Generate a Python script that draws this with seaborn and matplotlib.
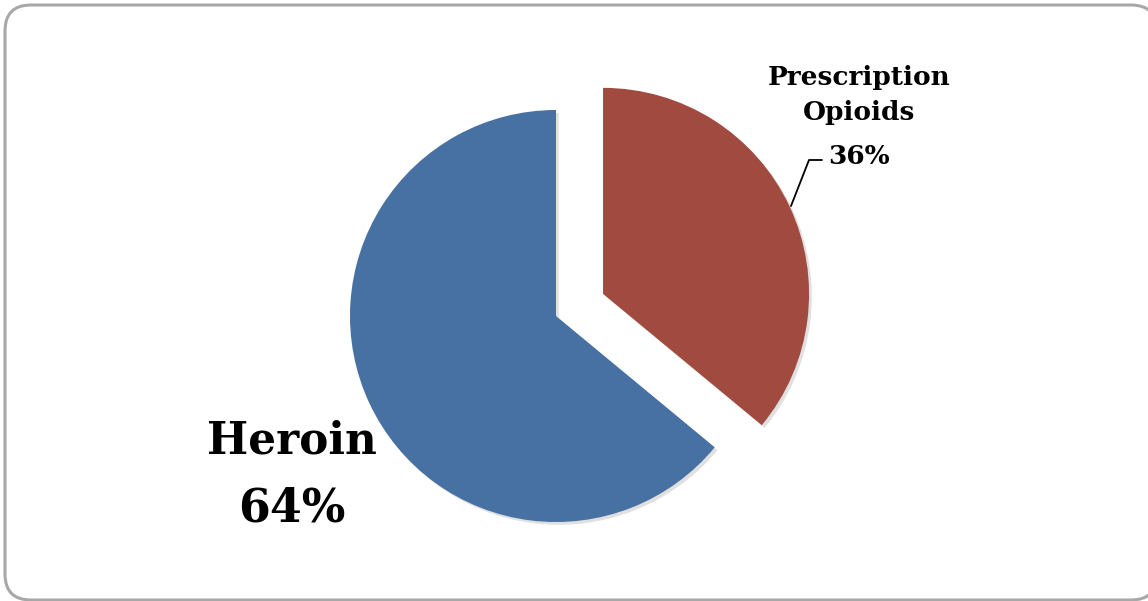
import matplotlib
matplotlib.use("Agg")
import matplotlib.pyplot as plt
import matplotlib.patches as mpatches
import matplotlib.patheffects as pe
import seaborn as sns

# Share of opioid overdose deaths by drug type
categories = ["Prescription\nOpioids", "Heroin"]
shares = [36, 64]
pct_labels = ["36%", "64%"]
colors = ["#A04A40", "#4671A2"]

sns.set_theme(style="white")
plt.rcParams["font.family"] = ["DejaVu Serif", "DejaVu Sans"]

W, H = 1148, 601
fig = plt.figure(figsize=(W / 100, H / 100), dpi=100)
ax = fig.add_axes([0, 0, 1, 1])

# rounded frame around the chart area (runs off the right and bottom edges)
frame = mpatches.FancyBboxPatch((5, 1), 1152, 595,
                                boxstyle="round,pad=0,rounding_size=26",
                                fc="white", ec="#A8A8A8", lw=2.2,
                                transform=ax.transData, zorder=0)
ax.add_patch(frame)

center = (556, H - 316)
radius = 206
wedges, _ = ax.pie(shares, colors=colors, startangle=90, counterclock=False,
                   center=center, radius=radius, explode=[52, 0],
                   frame=True,
                   wedgeprops=dict(linewidth=0))
for w in wedges:
    w.set_zorder(2)
    w.set_path_effects([pe.SimplePatchShadow(offset=(2, -2), shadow_rgbFace="#999999", alpha=0.3),
                        pe.Normal()])
ax.set_xlim(0, W)
ax.set_ylim(0, H)
ax.set_aspect("equal")
ax.axis("off")

# Heroin label
ax.text(292, H - 441, categories[1], ha="center", va="center",
        fontsize=31.5, fontweight="bold", color="black", zorder=3)
ax.text(292, H - 508, pct_labels[1], ha="center", va="center",
        fontsize=33, fontweight="bold", color="black", zorder=3)

# Prescription opioids label with leader line
ax.text(859, H - 95, categories[0], ha="center", va="center",
        fontsize=19, fontweight="bold", color="black", linespacing=1.5, zorder=3)
ax.text(859, H - 157, pct_labels[0], ha="center", va="center",
        fontsize=19, fontweight="bold", color="black", zorder=3)
ax.plot([822, 809, 791], [H - 160, H - 160, H - 206], color="black", lw=1.3, zorder=3)

fig.savefig("out.png", dpi=100, facecolor="white")
